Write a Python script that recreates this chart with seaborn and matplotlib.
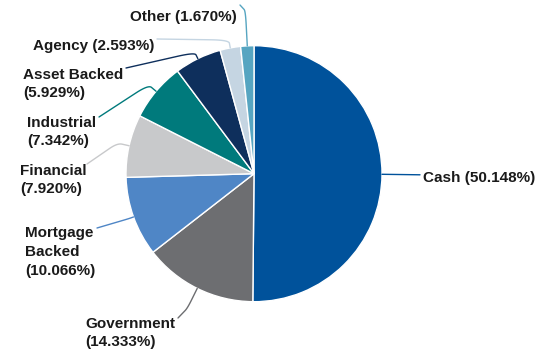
import numpy as np
import matplotlib
matplotlib.use("Agg")
import matplotlib.pyplot as plt
import seaborn as sns

# Portfolio sector allocation (%)
sectors = ["Cash", "Government", "Mortgage\nBacked", "Financial", "Industrial",
           "Asset Backed", "Agency", "Other"]
weights = [50.148, 14.333, 10.066, 7.920, 7.342, 5.929, 2.593, 1.670]
colors = ["#00529B", "#6D6E71", "#4F86C6", "#C8C9CB", "#007A7C",
          "#0E2F5C", "#C5D5E2", "#56A5C1"]

sns.set_theme(style="white")
plt.rcParams["font.family"] = ["Liberation Sans", "DejaVu Sans"]

W, H = 554, 354
fig = plt.figure(figsize=(W / 100, H / 100), dpi=100)
ax = fig.add_axes([0, 0, 1, 1])

cx, cy, r = 254, H - 173.7, 128
wedges, _ = ax.pie(weights, colors=colors, startangle=90, counterclock=False,
                   radius=r, center=(cx, cy),
                   wedgeprops=dict(edgecolor="white", linewidth=1.0))
ax.set_xlim(0, W)
ax.set_ylim(0, H)
ax.set_aspect("equal")
ax.axis("off")

# label layout: (text x, text centre y in pixels from top, leader end x, leader end y, elbow length)
layout = [
    (423, 178, 420, 174.8, 0),
    (85, 333, 178, 318, 22),
    (25, 252, 97, 228, 5),
    (20, 180, 87, 164, 12),
    (27, 132, 99, 117, 10),
    (23, 84, 126, 68, 7),
    (33, 46, 157, 39, 8),
    (130, 17, 240, 5, 35),
]

for w, name, val, col, (tx, ty, ex, ey, ext) in zip(
        wedges, sectors, weights, colors, layout):
    mid = np.deg2rad((w.theta1 + w.theta2) / 2)
    d = np.array([np.cos(mid), np.sin(mid)])
    p0 = np.array([cx, cy]) + r * d
    p1 = p0 + ext * d
    p2 = np.array([ex, H - ey])
    if ext == 0:
        xs, ys = [p0[0], p2[0]], [p0[1], p2[1]]
    else:
        # rounded elbow between the radial stub and the run to the label
        t = np.linspace(0, 1, 30)
        a = p0 + (p1 - p0) * 0.6
        b = p1 + (p2 - p1) * 0.25
        q = np.outer((1 - t) ** 2, a) + np.outer(2 * (1 - t) * t, p1) + np.outer(t ** 2, b)
        pts = np.vstack([p0, q, p2])
        xs, ys = pts[:, 0], pts[:, 1]
    ax.plot(xs, ys, color=col, lw=1.0, solid_capstyle="round")
    label = f"{name} ({val:.3f}%)" if name in ("Cash", "Other", "Agency") \
        else f"{name}\n({val:.3f}%)"
    ax.text(tx, H - ty, label, ha="left", va="center", fontsize=11,
            fontweight="bold", color="#1a1a1a", linespacing=1.45)

fig.savefig("out.png", dpi=100, facecolor="white")
